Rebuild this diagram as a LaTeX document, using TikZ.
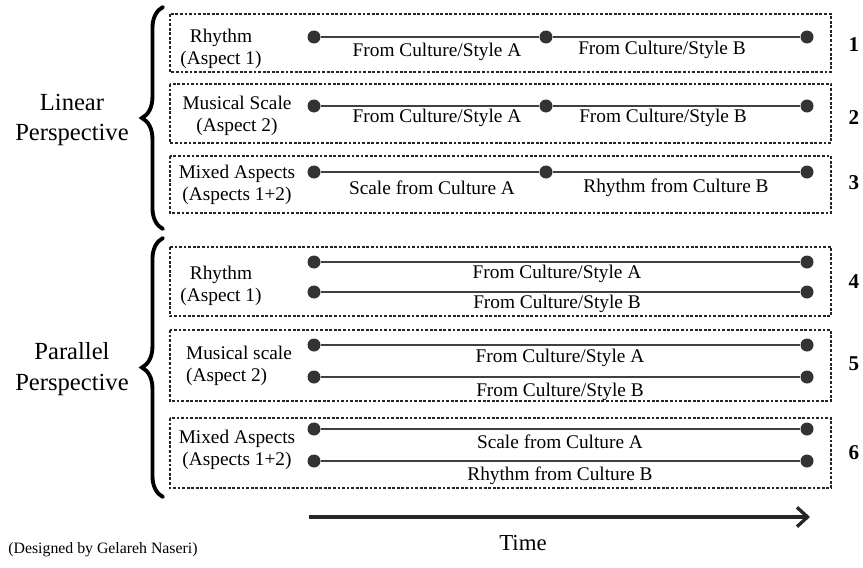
\documentclass[tikz,border=0pt]{standalone}
\usepackage{fontspec}
\setmainfont{Liberation Serif}
\usepackage{tikz}
\usetikzlibrary{arrows.meta}
\usetikzlibrary{decorations.pathreplacing}

\tikzset{
	box/.style={draw=black!85, line width=0.7pt, dash pattern=on 1.6pt off 1pt},
	dot/.style={circle, fill=black!80, inner sep=0pt, minimum size=7.4pt},
	seg/.style={draw=black!75, line width=1.4pt},
	lab/.style={font=\fontsize{11}{13}\selectfont, inner sep=0pt},
	aspect/.style={font=\fontsize{11}{12.5}\selectfont, align=center, inner sep=0pt},
	persp/.style={font=\fontsize{14}{17.5}\selectfont, align=center, inner sep=0pt},
	num/.style={font=\fontsize{12}{14}\selectfont\bfseries, inner sep=0pt},
	curly/.style={decorate, decoration={brace, amplitude=12pt}, line width=2.2pt, line cap=round},
}

\begin{document}
\begin{tikzpicture}[x=0.02cm, y=-0.02cm]
	\useasboundingbox (0,0) rectangle (863,568);
	
	% boxes
	\draw [box] (170,14) rectangle (831,72);
	\draw [box] (170,84) rectangle (831,143);
	\draw [box] (170,156) rectangle (831,213);
	\draw [box] (170,247) rectangle (831,316);
	\draw [box] (170,330) rectangle (831,401);
	\draw [box] (170,418) rectangle (831,488);
	
	% braces
	\coordinate (linTop) at (163,7);
	\coordinate (linBot) at (163,229);
	\coordinate (parTop) at (163,238);
	\coordinate (parBot) at (163,497);
	\draw [curly] (linBot) -- (linTop);
	\draw [curly] (parBot) -- (parTop);
	\node [persp] (linear) at (72,120) {Linear\\Perspective};
	\node [persp] (parallel) at (72,369) {Parallel\\Perspective};
	
	% linear rows
	\node [dot] (a1) at (314,37) {};
	\node [dot] (m1) at (546,37) {};
	\node [dot] (b1) at (807,37) {};
	\draw [seg] (a1) -- (m1) -- (b1);
	\node [dot] (a2) at (314,106) {};
	\node [dot] (m2) at (546,106) {};
	\node [dot] (b2) at (807,106) {};
	\draw [seg] (a2) -- (m2) -- (b2);
	\node [dot] (a3) at (314,172) {};
	\node [dot] (m3) at (546,172) {};
	\node [dot] (b3) at (807,172) {};
	\draw [seg] (a3) -- (m3) -- (b3);
	
	\node [aspect] (asp1) at (221,49) {Rhythm\\(Aspect 1)};
	\node [aspect] (asp2) at (237,116) {Musical Scale\\ (Aspect 2)};
	\node [aspect] (asp3) at (237,185) {Mixed Aspects\\(Aspects 1+2)};
	
	\node [lab] (t1a) at (437,52) {From Culture/Style A};
	\node [lab] (t1b) at (662,50) {From Culture/Style B};
	\node [lab] (t2a) at (437,118) {From Culture/Style A};
	\node [lab] (t2b) at (663,118) {From Culture/Style B};
	\node [lab] (t3a) at (432,188) {Scale from Culture A};
	\node [lab] (t3b) at (676,188) {Rhythm from Culture B};
	
	% parallel rows
	\node [dot] (a4) at (314,262) {};
	\node [dot] (b4) at (807,262) {};
	\node [dot] (c4) at (314,292) {};
	\node [dot] (d4) at (807,292) {};
	\draw [seg] (a4) -- (b4);
	\draw [seg] (c4) -- (d4);
	\node [dot] (a5) at (314,345) {};
	\node [dot] (b5) at (807,345) {};
	\node [dot] (c5) at (314,377) {};
	\node [dot] (d5) at (807,377) {};
	\draw [seg] (a5) -- (b5);
	\draw [seg] (c5) -- (d5);
	\node [dot] (a6) at (314,429) {};
	\node [dot] (b6) at (807,429) {};
	\node [dot] (c6) at (314,461) {};
	\node [dot] (d6) at (807,461) {};
	\draw [seg] (a6) -- (b6);
	\draw [seg] (c6) -- (d6);
	
	\node [aspect] (asp4) at (221,286) {Rhythm\\(Aspect 1)};
	\node [aspect, align=left] (asp5) at (239,366) {Musical scale\\(Aspect 2)};
	\node [aspect] (asp6) at (237,450) {Mixed Aspects\\(Aspects 1+2)};
	
	\node [lab] (t4a) at (557,274) {From Culture/Style A};
	\node [lab] (t4b) at (557,304) {From Culture/Style B};
	\node [lab] (t5a) at (560,358) {From Culture/Style A};
	\node [lab] (t5b) at (560,392) {From Culture/Style B};
	\node [lab] (t6a) at (560,442) {Scale from Culture A};
	\node [lab] (t6b) at (560,476) {Rhythm from Culture B};
	
	% row numbers
	\node [num] (n1) at (854,45) {1};
	\node [num] (n2) at (854,118) {2};
	\node [num] (n3) at (854,183) {3};
	\node [num] (n4) at (854,282) {4};
	\node [num] (n5) at (854,364) {5};
	\node [num] (n6) at (854,453) {6};
	
	% time axis
	\coordinate (time0) at (309,517);
	\coordinate (time1) at (810,517);
	\draw [line width=1.9pt, black!85, -{Straight Barb[length=6pt, width=11pt]}] (time0) -- (time1);
	\node [font=\fontsize{13}{15}\selectfont] (time) at (523,543) {Time};
	\node [anchor=west, font=\fontsize{9}{11}\selectfont, inner sep=0pt] (credit) at (8,550) {(Designed by Gelareh Naseri)};
\end{tikzpicture}
\end{document}
